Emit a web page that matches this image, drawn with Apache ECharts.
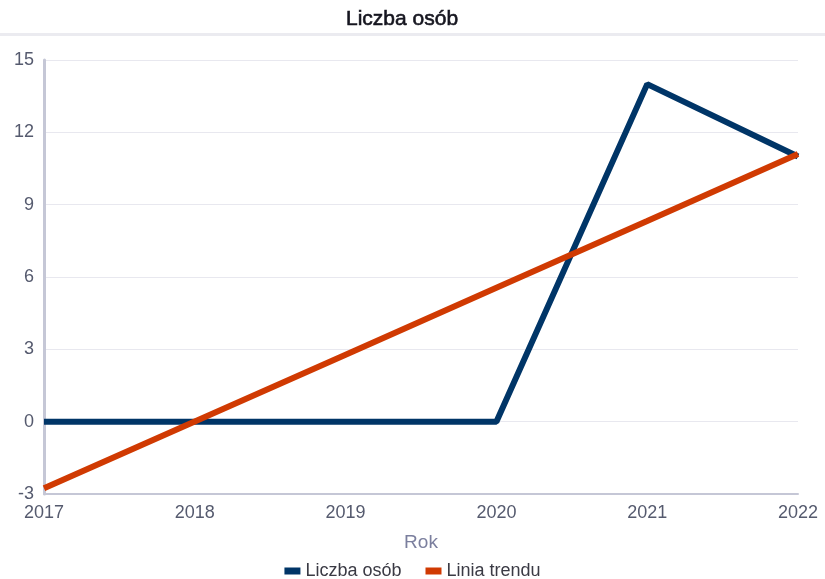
<!DOCTYPE html>
<html>
<head>
<meta charset="utf-8">
<script src="https://cdn.jsdelivr.net/npm/echarts@6/dist/echarts.min.js"></script>
<style>
  html, body { margin: 0; padding: 0; background: #fff; }
  #chart { width: 825px; height: 579px; }
</style>
</head>
<body>
<div id="chart"></div>
<script>
  // dane
  var years = ['2017', '2018', '2019', '2020', '2021', '2022'];
  var liczbaOsob = [0, 0, 0, 0, 14, 11];
  var liniaTrendu = [-2.76, 0.01, 2.78, 5.55, 8.32, 11.10];

  var font = 'Liberation Sans';
  var chart = echarts.init(document.getElementById('chart'));

  chart.setOption({
    animation: false,
    title: {
      text: 'Liczba osób',
      left: 341,
      top: 4,
      textStyle: {
        fontFamily: font, fontSize: 21, fontWeight: 'normal', color: '#15151f',
        textBorderColor: '#15151f', textBorderWidth: 0.6
      }
    },
    graphic: [{
      type: 'rect',
      shape: { x: 0, y: 33, width: 825, height: 3 },
      style: { fill: '#ebebf0' },
      silent: true
    }],
    legend: {
      bottom: -6,
      left: 'center',
      itemWidth: 16,
      itemHeight: 7,
      itemGap: 24,
      icon: 'rect',
      textStyle: { fontFamily: font, fontSize: 18, color: '#3a3a44' },
      data: ['Liczba osób', 'Linia trendu']
    },
    grid: { left: 44, right: 27, top: 60, bottom: 85, containLabel: false },
    xAxis: {
      type: 'category',
      data: years,
      boundaryGap: false,
      name: 'Rok',
      nameLocation: 'middle',
      nameGap: 39,
      nameTextStyle: { fontFamily: font, fontSize: 19, color: '#7b7f9e' },
      axisLine: { onZero: false, lineStyle: { color: '#c5c7d6', width: 2 } },
      axisTick: { show: false },
      axisLabel: { fontFamily: font, fontSize: 18, color: '#555a6e', margin: 10 },
      splitLine: { show: false }
    },
    yAxis: {
      type: 'value',
      min: -3,
      max: 15,
      interval: 3,
      axisLine: { show: true, lineStyle: { color: '#c5c7d6', width: 3 } },
      axisTick: { show: false },
      axisLabel: { fontFamily: font, fontSize: 18, color: '#555a6e', margin: 10 },
      splitLine: { lineStyle: { color: '#e8e8ef', width: 1 } }
    },
    series: [{
      name: 'Liczba osób',
      type: 'line',
      data: liczbaOsob,
      showSymbol: false,
      symbol: 'none',
      color: '#003567',
      lineStyle: { width: 6, color: '#003567' },
      z: 2
    }, {
      name: 'Linia trendu',
      type: 'line',
      data: liniaTrendu,
      showSymbol: false,
      symbol: 'none',
      color: '#d03a02',
      lineStyle: { width: 6, color: '#d03a02' },
      z: 3
    }]
  });
</script>
</body>
</html>
